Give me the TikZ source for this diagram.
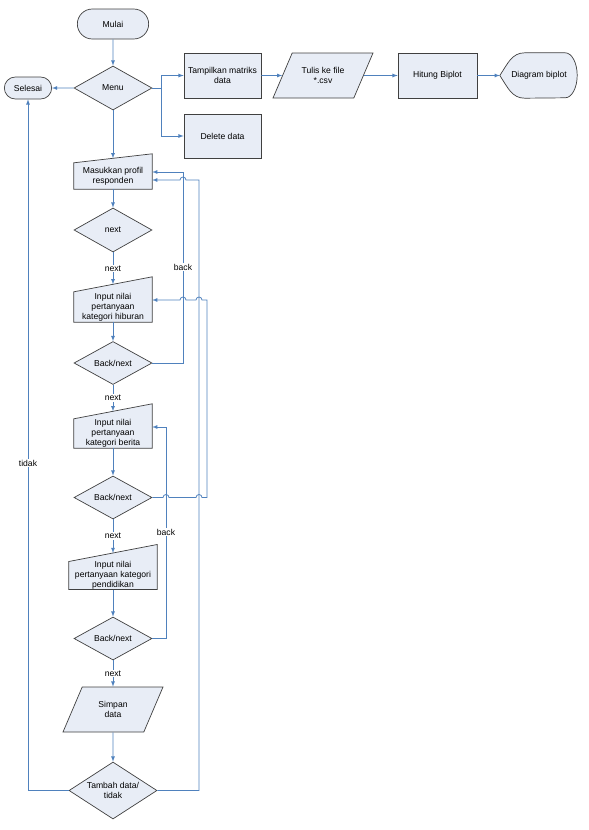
\documentclass[tikz,border=0pt]{standalone}
\usepackage{fontspec}
\setmainfont{Liberation Sans}
\usetikzlibrary{shapes.geometric,shapes.misc,calc,backgrounds}
\definecolor{boxfill}{HTML}{E8EDF6}
\definecolor{boxline}{HTML}{404040}
\definecolor{flowblue}{HTML}{4F81BD}

\begin{document}
\begin{tikzpicture}[x=1pt,y=-1pt,
 font=\fontsize{8.6}{9.8}\selectfont,
 shapebox/.style={draw=boxline,fill=boxfill,line width=0.7pt},
 procbox/.style={shapebox,rectangle,align=center,minimum width=77pt,minimum height=45pt},
 termbox/.style={shapebox,rounded rectangle,align=center},
 decbox/.style={shapebox,diamond,align=center,aspect=1.8,inner sep=0pt,minimum width=78pt,minimum height=44pt},
 iobox/.style={shapebox,trapezium,trapezium left angle=66,trapezium right angle=114,trapezium stretches body,align=center,inner ysep=13.5pt,minimum width=100pt,minimum height=45pt},
 manbox/.style={rectangle,align=center,inner sep=0pt,minimum width=78pt},
 flow/.style={draw=flowblue,line width=0.8pt,-latex},
 flowlbl/.style={fill=white,inner sep=1pt}]

\useasboundingbox (0,0) rectangle (589,830);

%top row
\node[termbox,minimum width=78pt,minimum height=30pt] (mulai) at (113,24) {Mulai};
\node[decbox] (menu) at (113,88) {Menu};
\node[termbox,minimum width=54pt,minimum height=22pt] (selesai) at (28,88) {Selesai};
\node[procbox] (tampil) at (222.5,75.5) {Tampilkan matriks\\data};
\node[procbox,minimum height=44pt] (delete) at (222.5,136) {Delete data};
\node[iobox] (tulis) at (323,75.5) {Tulis ke file\\*.csv};
\node[procbox,minimum width=79pt] (hitung) at (437.5,75.5) {Hitung Biplot};
\node[rectangle,minimum width=78pt,minimum height=45pt] (diagram) at (539,75.5) {Diagram biplot};

%input kuesioner
\node[manbox,minimum height=26pt] (profil) at (113,176) {Masukkan profil\\responden};
\node[decbox] (cek) at (113,230) {next};
\node[manbox,minimum height=30pt] (hiburan) at (113,307) {Input nilai\\pertanyaan\\kategori hiburan};
\node[decbox,minimum height=43pt] (bn1) at (113,363) {Back/next};
\node[manbox,minimum height=29pt] (berita) at (113,433.5) {Input nilai\\pertanyaan\\kategori berita};
\node[decbox,minimum height=43pt] (bn2) at (113,497.5) {Back/next};
\node[manbox,minimum width=88pt,minimum height=27pt] (pendidikan) at (113,575.5) {Input nilai\\pertanyaan kategori\\pendidikan};
\node[decbox,minimum height=43pt] (bn3) at (113,638.5) {Back/next};
\node[iobox] (simpan) at (113,709.5) {Simpan\\data};
\node[decbox,minimum width=88pt,minimum height=57pt,aspect=1.55] (tambah) at (113,790.5) {Tambah data/\\tidak};

%manual input and display outlines
\begin{scope}[on background layer]
\draw[shapebox] (profil.south west) -- (profil.south east) -- ($(profil.north east)+(0,-9)$) -- (profil.north west) -- cycle;
\draw[shapebox] (hiburan.south west) -- (hiburan.south east) -- ($(hiburan.north east)+(0,-15)$) -- (hiburan.north west) -- cycle;
\draw[shapebox] (berita.south west) -- (berita.south east) -- ($(berita.north east)+(0,-15)$) -- (berita.north west) -- cycle;
\draw[shapebox] (pendidikan.south west) -- (pendidikan.south east) -- ($(pendidikan.north east)+(0,-17)$) -- (pendidikan.north west) -- cycle;
\draw[shapebox] (diagram.west) .. controls ($(diagram.west)+(8,-12)$) and ($(diagram.north west)+(12,0)$) .. ($(diagram.north west)+(25,0)$) -- ($(diagram.north east)+(-13,0)$) arc[start angle=-90,end angle=90,x radius=12,y radius=22.5] -- ($(diagram.south west)+(25,0)$) .. controls ($(diagram.south west)+(12,0)$) and ($(diagram.west)+(8,12)$) .. (diagram.west) -- cycle;
\end{scope}

%entry points on the sloped tops
\coordinate (profilin) at ($(profil.north)+(0,-4.5)$);
\coordinate (hiburanin) at ($(hiburan.north)+(0,-7.5)$);
\coordinate (beritain) at ($(berita.north)+(0,-7.5)$);
\coordinate (pendidikanin) at ($(pendidikan.north)+(0,-8.5)$);

%menu
\draw[flow] (mulai) -- (menu);
\draw[flow] (menu) -- (selesai);
\draw[flow] (menu.east) -- ++(9,0) |- (tampil);
\draw[flow] (menu.east) -- ++(9,0) |- (delete);
\draw[flow] (tampil) -- (tulis);
\draw[flow] (tulis) -- (hitung);
\draw[flow] (hitung) -- (diagram);

%kuesioner
\draw[flow] (menu) -- (profilin);
\draw[flow] (profil) -- (cek);
\draw[flow] (cek) -- (hiburanin) node[flowlbl,midway] (next1) {next};
\draw[flow] (hiburan) -- (bn1);
\draw[flow] (bn1) -- (beritain) node[flowlbl,midway] (next2) {next};
\draw[flow] (berita) -- (bn2);
\draw[flow] (bn2) -- (pendidikanin) node[flowlbl,midway] (next3) {next};
\draw[flow] (pendidikan) -- (bn3);
\draw[flow] (bn3) -- (simpan) node[flowlbl,midway] (next4) {next};
\draw[flow] (simpan) -- (tambah);

%back loops
\draw[flow] (bn1.east) -| (183,172) -- (profil.east |- 0,172);
\node[flowlbl] (back1) at (183,267) {back};
\draw[flow] (bn2.east) -- (163,497.5) arc[start angle=180,end angle=360,radius=3] -- (196,497.5) arc[start angle=180,end angle=360,radius=3] -- (207,497.5) -- (207,300) -- (202,300) arc[start angle=0,end angle=-180,radius=3] -- (186,300) arc[start angle=0,end angle=-180,radius=3] -- (hiburan.east |- 0,300);
\draw[flow] (bn3.east) -| (166,427) -- (berita.east |- 0,427);
\node[flowlbl] (back2) at (166,532) {back};

%tambah data
\draw[flow] (tambah.west) -| (selesai);
\node[flowlbl] (tidak) at (28,463) {tidak};
\draw[flow] (tambah.east) -| (199,180) -- (186,180) arc[start angle=0,end angle=-180,radius=3] -- (profil.east |- 0,180);
\end{tikzpicture}
\end{document}
